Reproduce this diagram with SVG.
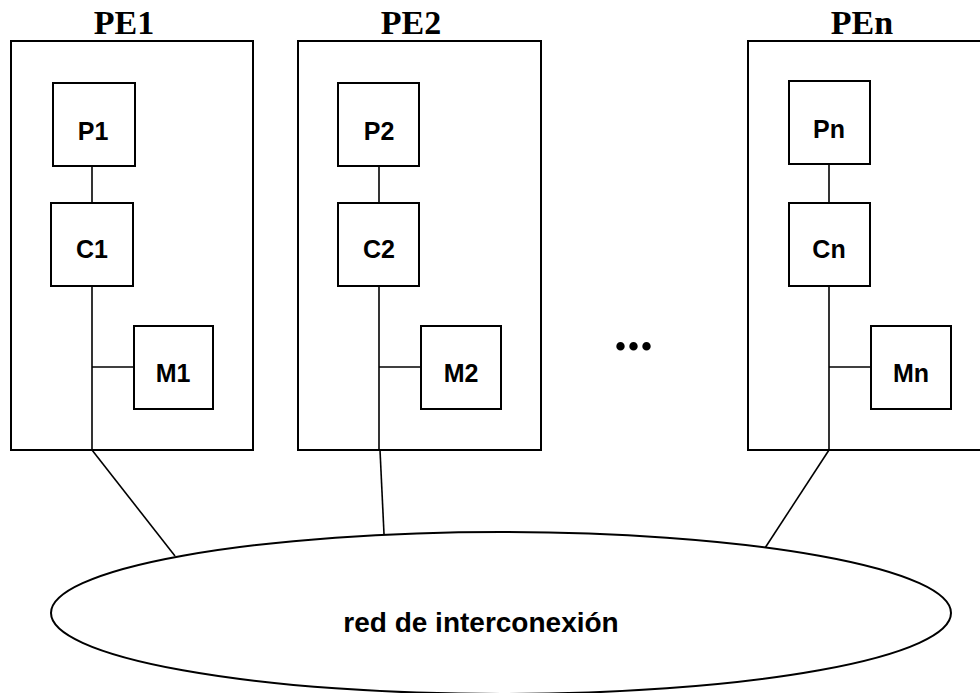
<svg xmlns="http://www.w3.org/2000/svg" width="980" height="693" viewBox="0 0 980 693">
<style>
.pe{fill:none;stroke:#000;stroke-width:2}
.box{fill:#fff;stroke:#000;stroke-width:2}
.ln{fill:none;stroke:#000;stroke-width:1.6}
.t{font-family:"Liberation Sans",Arial,sans-serif;font-weight:bold;font-size:25px;text-anchor:middle;fill:#000}
.h{font-family:"Liberation Serif","Times New Roman",serif;font-weight:bold;font-size:34px;text-anchor:middle;fill:#000}
</style>
<rect width="980" height="693" fill="#fff"/>
<g id="connectors">
<line class="ln" x1="92" y1="166" x2="92" y2="203"/>
<line class="ln" x1="92" y1="286" x2="92" y2="450"/>
<line class="ln" x1="92" y1="367" x2="134" y2="367"/>
<line class="ln" x1="379" y1="166" x2="379" y2="203"/>
<line class="ln" x1="379" y1="286" x2="379" y2="450"/>
<line class="ln" x1="379" y1="367" x2="421" y2="367"/>
<line class="ln" x1="829" y1="164" x2="829" y2="203"/>
<line class="ln" x1="829" y1="286" x2="829" y2="450"/>
<line class="ln" x1="829" y1="367" x2="871" y2="367"/>
<line class="ln" x1="92" y1="450" x2="175" y2="556"/>
<line class="ln" x1="380" y1="450" x2="384" y2="534"/>
<line class="ln" x1="829" y1="450" x2="765" y2="548"/>
</g>
<g id="PE1">
<rect class="pe" x="11" y="41" width="242" height="409"/>
<text class="h" x="124" y="34">PE1</text>
</g>
<g id="P1"><rect class="box" x="53" y="83" width="82" height="83"/><text class="t" x="93" y="140">P1</text></g>
<g id="C1"><rect class="box" x="51" y="203" width="82" height="83"/><text class="t" x="92" y="258">C1</text></g>
<g id="M1"><rect class="box" x="134" y="326" width="79" height="83"/><text class="t" x="173" y="382">M1</text></g>
<g id="PE2">
<rect class="pe" x="298" y="41" width="243" height="409"/>
<text class="h" x="411" y="34">PE2</text>
</g>
<g id="P2"><rect class="box" x="338" y="83" width="81" height="83"/><text class="t" x="379" y="140">P2</text></g>
<g id="C2"><rect class="box" x="338" y="203" width="81" height="83"/><text class="t" x="379" y="258">C2</text></g>
<g id="M2"><rect class="box" x="421" y="326" width="80" height="83"/><text class="t" x="461" y="382">M2</text></g>
<g id="PEn">
<rect class="pe" x="748" y="41" width="250" height="409"/>
<text class="h" x="862" y="34">PEn</text>
</g>
<g id="Pn"><rect class="box" x="789" y="81" width="81" height="83"/><text class="t" x="829" y="138">Pn</text></g>
<g id="Cn"><rect class="box" x="789" y="203" width="81" height="83"/><text class="t" x="829" y="258">Cn</text></g>
<g id="Mn"><rect class="box" x="871" y="326" width="80" height="83"/><text class="t" x="911" y="382">Mn</text></g>
<g id="dots"><text x="614" y="350" style="font-family:'Liberation Serif','Times New Roman',serif;font-weight:bold;font-size:52px">...</text></g>
<g id="red">
<ellipse cx="501" cy="613" rx="450" ry="81" fill="#fff" stroke="#000" stroke-width="2"/>
<text x="481" y="632" style="font-family:'Liberation Sans',Arial,sans-serif;font-weight:bold;font-size:28px;text-anchor:middle">red de interconexión</text>
</g>
</svg>
